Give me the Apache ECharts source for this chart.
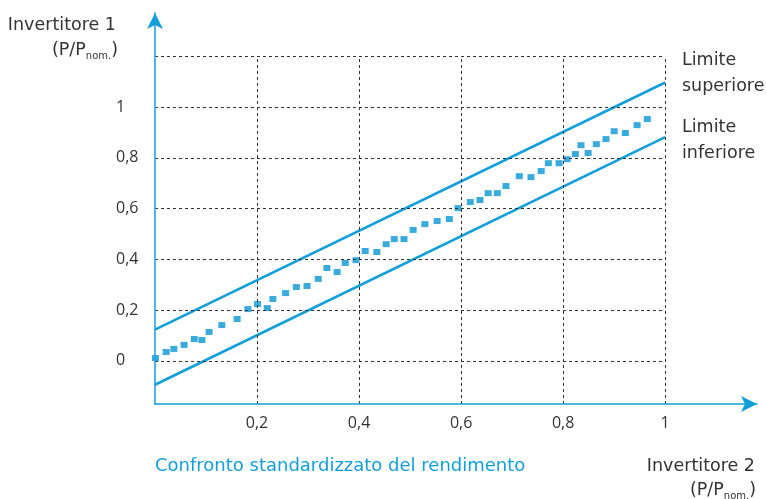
<!DOCTYPE html>
<html>
<head>
<meta charset="utf-8">
<script src="https://cdn.jsdelivr.net/npm/echarts@6/dist/echarts.min.js"></script>
<style>
  html, body { margin: 0; padding: 0; background: #fff; }
  #chart { width: 766px; height: 499px; }
</style>
</head>
<body>
<div id="chart"></div>
<script>
// measured points (Invertitore 2 vs Invertitore 1)
const measuredX = [0.001, 0.022, 0.037, 0.057, 0.077, 0.092, 0.106, 0.131, 0.161, 0.182,
  0.201, 0.220, 0.231, 0.256, 0.277, 0.298, 0.320, 0.337, 0.357, 0.373,
  0.394, 0.412, 0.435, 0.453, 0.469, 0.488, 0.506, 0.529, 0.553, 0.577,
  0.594, 0.618, 0.637, 0.653, 0.671, 0.688, 0.714, 0.737, 0.757, 0.771,
  0.792, 0.808, 0.824, 0.835, 0.849, 0.865, 0.884, 0.900, 0.922, 0.945, 0.965];
const measuredY = [0.011, 0.035, 0.047, 0.063, 0.086, 0.082, 0.114, 0.141, 0.165, 0.204,
  0.224, 0.208, 0.244, 0.267, 0.291, 0.295, 0.323, 0.366, 0.350, 0.386,
  0.397, 0.433, 0.429, 0.460, 0.480, 0.480, 0.516, 0.539, 0.551, 0.559,
  0.602, 0.626, 0.634, 0.661, 0.661, 0.689, 0.728, 0.724, 0.748, 0.779,
  0.779, 0.795, 0.815, 0.850, 0.819, 0.854, 0.874, 0.905, 0.898, 0.929, 0.953];

// tolerance band
const limitX = [0, 1];
const upperY = [0.123, 1.097];
const lowerY = [-0.094, 0.882];

const xLabelValues = [0.2, 0.4, 0.6, 0.8, 1];
const yLabelValues = [0, 0.2, 0.4, 0.6, 0.8, 1];
const gridXValues = [0.2, 0.4, 0.6, 0.8, 1];
const gridYValues = [0, 0.2, 0.4, 0.6, 0.8, 1, 1.2];

const xMin = 0, xMax = 1.18;
const yMin = -0.17, yMax = 1.371;

const blue = '#129edb';
const textColor = '#333';
const labelFont = 'Open Sans';
const textFont = '17.5px "DejaVu Sans"';

const chart = echarts.init(document.getElementById('chart'));

const comma = v => String(v).replace('.', ',');
const pairs = (xs, ys) => xs.map((x, i) => [x, ys[i]]);

const gridLines = []
  .concat(gridYValues.map(v => [{ coord: [0, v] }, { coord: [1, v] }]))
  .concat(gridXValues.map(v => [{ coord: [v, yMin] }, { coord: [v, 1.2] }]));

function axisCommon() {
  return {
    type: 'value',
    z: 10,
    splitLine: { show: false },
    axisTick: { show: false },
    axisLine: {
      show: true,
      onZero: false,
      symbol: ['none', 'arrow'],
      symbolSize: [12, 16],
      lineStyle: { color: blue, width: 1.5 }
    }
  };
}

function label(x, y, text, opts) {
  return {
    type: 'text', x: x, y: y, z: 100,
    style: Object.assign({
      text: text, fill: textColor, font: textFont,
      textVerticalAlign: 'middle', verticalAlign: 'middle'
    }, opts || {})
  };
}

function unitLabel(x, y) {
  return {
    type: 'text', x: x, y: y, z: 100,
    style: {
      text: '{a|(P/P}{s|nom.}{a|)}',
      textAlign: 'right', align: 'right', textVerticalAlign: 'middle', verticalAlign: 'middle',
      rich: {
        a: { fontSize: 17.5, fontFamily: 'DejaVu Sans', fill: textColor, lineHeight: 22 },
        s: { fontSize: 10, fontFamily: 'DejaVu Sans', fill: textColor, lineHeight: 22, verticalAlign: 'bottom', padding: [8, 0, 0, 0] }
      }
    }
  };
}

const option = {
  animation: false,
  grid: { left: 155, right: 9, top: 13, bottom: 95, outerBoundsMode: 'none' },
  xAxis: Object.assign(axisCommon(), {
    min: xMin, max: xMax,
    axisLabel: {
      customValues: xLabelValues, formatter: comma,
      color: textColor, fontSize: 16, fontFamily: labelFont, margin: 11
    }
  }),
  yAxis: Object.assign(axisCommon(), {
    min: yMin, max: yMax,
    axisLabel: {
      customValues: yLabelValues, formatter: comma,
      color: textColor, fontSize: 16, fontFamily: labelFont, margin: 39, align: 'left'
    }
  }),
  graphic: [
    label(116, 25, 'Invertitore 1', { textAlign: 'right', align: 'right' }),
    unitLabel(118, 50),
    label(682, 60, 'Limite'),
    label(682, 86, 'superiore'),
    label(682, 127, 'Limite'),
    label(682, 153, 'inferiore'),
    label(155, 466, 'Confronto standardizzato del rendimento', { fill: blue, font: '18px "DejaVu Sans"' }),
    label(755, 466, 'Invertitore 2', { textAlign: 'right', align: 'right' }),
    unitLabel(756, 490)
  ],
  series: [
    {
      name: 'grid',
      type: 'line',
      data: [],
      z: 1,
      silent: true,
      markLine: {
        silent: true,
        symbol: ['none', 'none'],
        label: { show: false },
        lineStyle: { type: [3, 3], color: '#333', width: 1 },
        data: gridLines
      }
    },
    {
      name: 'bandBase',
      type: 'line',
      stack: 'band',
      data: pairs(limitX, lowerY),
      symbol: 'none',
      lineStyle: { width: 0 },
      z: 2,
      silent: true
    },
    {
      name: 'band',
      type: 'line',
      stack: 'band',
      data: limitX.map((x, i) => [x, upperY[i] - lowerY[i]]),
      symbol: 'none',
      lineStyle: { width: 0 },
      areaStyle: { color: '#fff', opacity: 1 },
      z: 2,
      silent: true
    },
    {
      name: 'Limite superiore',
      type: 'line',
      data: pairs(limitX, upperY),
      symbol: 'none',
      lineStyle: { color: blue, width: 2.6 },
      z: 3
    },
    {
      name: 'Limite inferiore',
      type: 'line',
      data: pairs(limitX, lowerY),
      symbol: 'none',
      lineStyle: { color: blue, width: 2.6 },
      z: 3
    },
    {
      name: 'Rendimento',
      type: 'scatter',
      data: pairs(measuredX, measuredY),
      symbol: 'rect',
      symbolSize: [7, 6],
      itemStyle: { color: '#0795d3' },
      z: 4
    }
  ]
};

chart.setOption(option);
</script>
</body>
</html>
